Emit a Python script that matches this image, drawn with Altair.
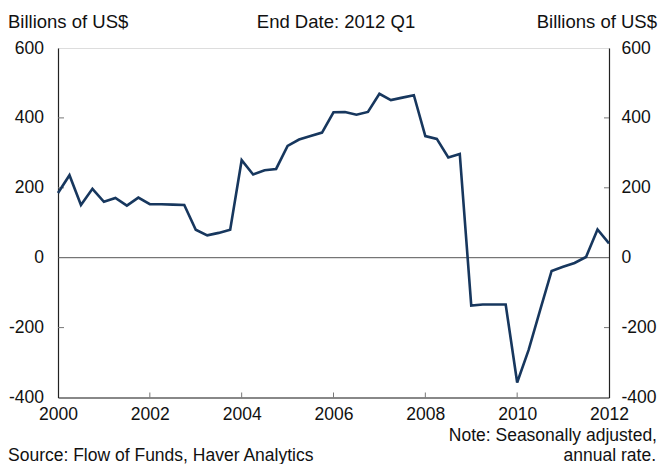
import altair as alt
import pandas as pd

# Quarterly values, 2000 Q1 .. 2012 Q1 (billions of US$)
values = [185, 236, 151, 197, 160, 171, 149, 172, 153, 153, 152, 151,
          80, 64, 71, 80, 279, 238, 250, 254, 320, 338, 348, 358,
          416, 417, 409, 417, 469, 451, 458, 465, 348, 340, 287, 297,
          -137, -134, -134, -134, -357, -264, -150, -38, -26, -15, 2, 81, 41]
start_year = 2000
year_ticks = [2000, 2002, 2004, 2006, 2008, 2010, 2012]
inner_year_ticks = [2002, 2004, 2006, 2008, 2010]
y_ticks = [-400, -200, 0, 200, 400, 600]
inner_y_ticks = [-200, 200, 400]

title_left = "Billions of US$"
title_center = "End Date: 2012 Q1"
title_right = "Billions of US$"
note1 = "Note: Seasonally adjusted,"
note2 = "annual rate."
source = "Source: Flow of Funds, Haver Analytics"

W, H = 551, 349.5
FONT = "Liberation Sans"
FS = 17.5      # axis numbers
FT = 18.5      # top titles
FN = 17.5      # bottom notes
LINE_COLOR = "#17375E"
TXT = "#111111"

df = pd.DataFrame({"t": [start_year + i / 4 for i in range(len(values))], "v": values})
yt = pd.DataFrame({"v": inner_y_ticks})
xt = pd.DataFrame({"t": inner_year_ticks})

xsc = alt.Scale(domain=[2000, 2012], nice=False, zero=False)
ysc = alt.Scale(domain=[-400, 600], nice=False, zero=False)

hyphen_labels = "(datum.value < 0 ? '-' : '') + abs(datum.value)"

x_axis = alt.Axis(values=year_ticks, format="d", title=None, ticks=False, grid=False,
                  labelFontSize=FS, labelFont=FONT, labelColor=TXT, labelPadding=8,
                  labelFlush=False, labelOverlap=False, domainColor="#222", domainWidth=1.2)

left_axis = alt.Axis(values=y_ticks, title=None, ticks=False, grid=False, orient="left",
                     labelExpr=hyphen_labels,
                     labelFontSize=FS, labelFont=FONT, labelColor=TXT, labelPadding=14.5,
                     labelFlush=False, labelOverlap=False, domainColor="#222", domainWidth=1.2)
right_axis = alt.Axis(values=y_ticks, title=None, ticks=False, grid=False, orient="right",
                      labelExpr=hyphen_labels,
                      labelFontSize=FS, labelFont=FONT, labelColor=TXT, labelPadding=12,
                      labelFlush=False, labelOverlap=False, domainColor="#222", domainWidth=1.2)

zero = alt.Chart(pd.DataFrame({"v": [0]})).mark_rule(color="#555555", strokeWidth=1).encode(
    y=alt.Y("v:Q", scale=ysc, axis=None))

bticks = alt.Chart(xt).mark_rule(color="#777777", strokeWidth=1).encode(
    x=alt.X("t:Q", scale=xsc, axis=x_axis), y=alt.value(H - 5), y2=alt.value(H))

lticks = alt.Chart(yt).mark_rule(color="#777777", strokeWidth=1).encode(
    y=alt.Y("v:Q", scale=ysc, axis=None), x=alt.value(0), x2=alt.value(6))
rticks = alt.Chart(yt).mark_rule(color="#777777", strokeWidth=1).encode(
    y=alt.Y("v:Q", scale=ysc, axis=right_axis), x=alt.value(W - 5), x2=alt.value(W))

line = alt.Chart(df).mark_line(color=LINE_COLOR, strokeWidth=2.6, strokeJoin="miter").encode(
    x=alt.X("t:Q", scale=xsc, axis=x_axis),
    y=alt.Y("v:Q", scale=ysc, axis=left_axis))

def txt(s, x, y, align, size):
    return alt.Chart(pd.DataFrame({"a": [0]})).mark_text(
        text=s, font=FONT, fontSize=size, color=TXT, align=align, baseline="middle").encode(
        x=alt.value(x), y=alt.value(y))

texts = [
    txt(title_left, -50, -26.5, "left", FT),
    txt(title_center, 278, -26.5, "center", FT),
    txt(title_right, 599, -26.5, "right", FT),
    txt(note1, 599, 387.5, "right", FN),
    txt(note2, 598, 407.5, "right", FN),
    txt(source, -50, 407.5, "left", FN),
]

chart = alt.layer(zero, bticks, lticks, rticks, line, *texts).resolve_scale(
    y="independent").properties(
    width=W, height=H,
    autosize=alt.AutoSizeParams(type="none"),
    padding={"left": 50, "top": 40, "right": 49, "bottom": 66},
).configure_view(stroke="#8a8a8a", strokeWidth=1).configure(background="white")

chart.save("out.html", embed_options={"renderer": "svg", "actions": False})
